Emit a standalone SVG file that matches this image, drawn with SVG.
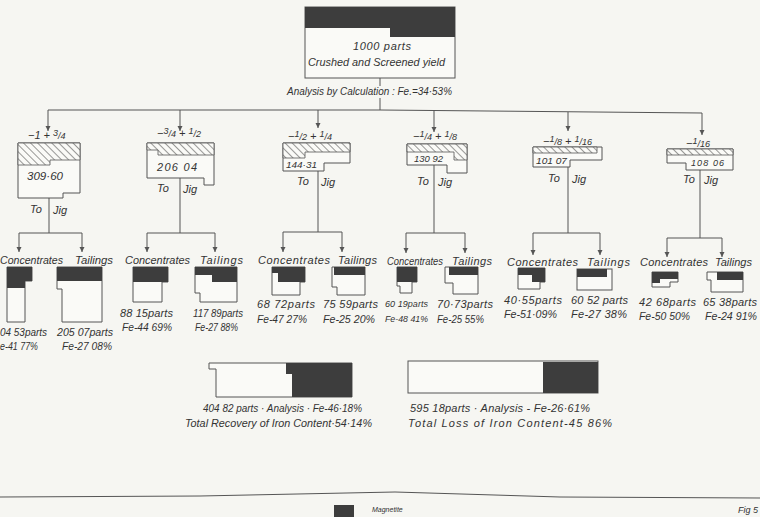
<svg xmlns="http://www.w3.org/2000/svg" width="760" height="517" viewBox="0 0 760 517">
<defs>
<style>
.t{font-family:"Liberation Sans",Arial,sans-serif;font-style:italic;font-size:11px;fill:#333}
.s{font-size:9px}
.xs{font-size:7px}
.ln{stroke:#555;stroke-width:1;fill:none}
.ar{stroke:#555;stroke-width:1;fill:none;marker-end:url(#ah)}
.box{fill:#fafaf7;stroke:#555;stroke-width:1}
.dk{fill:#3d3d3d}
.ht{fill:url(#hatch);stroke:#555;stroke-width:0.8}
</style>
<pattern id="hatch" width="5" height="5" patternUnits="userSpaceOnUse" patternTransform="rotate(-45)">
<rect width="5" height="5" fill="#fafaf7"/>
<line x1="0" y1="0" x2="0" y2="5" stroke="#555" stroke-width="1.2"/>
</pattern>
<marker id="ah" markerUnits="userSpaceOnUse" markerWidth="6" markerHeight="6" refX="5" refY="2.5" orient="auto">
<path d="M0,0 L5,2.5 L0,5 z" fill="#555"/>
</marker>
</defs>
<rect width="760" height="517" fill="#f6f6f2"/>

<g id="connectors">
<path class="ln" d="M380,78 V86 M380,98 V110"/>
<path class="ln" d="M48,110 L380,110 L702,113"/>
<path class="ar" d="M48,110 V131"/>
<path class="ar" d="M180,110 V131"/>
<path class="ar" d="M318,110 V128"/>
<path class="ar" d="M434,111 V132"/>
<path class="ar" d="M568,112 V131"/>
<path class="ar" d="M702,113 V135"/>
<path class="ln" d="M49,198 V233 M19,233 H82"/>
<path class="ar" d="M19,233 V252"/><path class="ar" d="M82,233 V252"/>
<path class="ln" d="M180,178 V233 M147,233 H215"/>
<path class="ar" d="M147,233 V252"/><path class="ar" d="M215,233 V252"/>
<path class="ln" d="M318,171 V232 M283,232 H342"/>
<path class="ar" d="M283,232 V252"/><path class="ar" d="M342,232 V252"/>
<path class="ln" d="M434,165 V233 M406,233 H465"/>
<path class="ar" d="M406,233 V253"/><path class="ar" d="M465,233 V253"/>
<path class="ln" d="M568,167 V233 M533,233 H600"/>
<path class="ar" d="M533,233 V255"/><path class="ar" d="M600,233 V255"/>
<path class="ln" d="M700,170 V238 M667,238 H722"/>
<path class="ar" d="M667,238 V257"/><path class="ar" d="M722,238 V257"/>
</g>

<g id="feed">
<rect class="box" x="305" y="7" width="150" height="71"/>
<path class="dk" d="M305,7 H455 V37 H390 V28 H305 Z"/>
<text class="t" x="353" y="50" textLength="58" lengthAdjust="spacing">1000 parts</text>
<text class="t" x="308" y="66" textLength="137" lengthAdjust="spacingAndGlyphs">Crushed and Screened yield</text>
<text class="t" x="287" y="95" textLength="165" lengthAdjust="spacingAndGlyphs">Analysis by Calculation : Fe.=34·53%</text>
</g>

<g id="size1">
<path class="box" d="M18,143 H80 V193 H63 V198 H18 Z"/>
<path class="ht" d="M18,143 H80 V160 H50 V165 H18 Z"/>
<text class="t" x="28" y="139">−1 + <tspan class="s" dy="-3">3</tspan><tspan class="s" dy="3">/4</tspan></text>
<text class="t" x="27" y="180" textLength="36" lengthAdjust="spacingAndGlyphs">309·60</text>
<text class="t" x="30" y="213">To</text><text class="t" x="53" y="214">Jig</text>
</g>
<g id="size2">
<path class="box" d="M147,143 H214 V185 H204 V178 H147 Z"/>
<path class="ht" d="M147,143 H214 V155 H158 V150 H147 Z"/>
<text class="t" x="157" y="137">−<tspan class="s" dy="-3">3</tspan><tspan class="s" dy="3">/4</tspan> + <tspan class="s" dy="-3">1</tspan><tspan class="s" dy="3">/2</tspan></text>
<text class="t" x="157" y="171" textLength="40" lengthAdjust="spacing">206 04</text>
<text class="t" x="157" y="192">To</text><text class="t" x="183" y="193">Jig</text>
</g>
<g id="size3">
<path class="box" d="M283,143 H350 V163 H324 V171 H283 Z"/>
<path class="ht" d="M283,143 H350 V152 H305 V158 H283 Z"/>
<text class="t" x="288" y="140">−<tspan class="s" dy="-3">1</tspan><tspan class="s" dy="3">/2</tspan> + <tspan class="s" dy="-3">1</tspan><tspan class="s" dy="3">/4</tspan></text>
<text class="t s" x="286" y="168" textLength="31" lengthAdjust="spacingAndGlyphs">144·31</text>
<text class="t" x="297" y="185">To</text><text class="t" x="321" y="186">Jig</text>
</g>
<g id="size4">
<path class="box" d="M407,144 H467 V173 H447 V165 H407 Z"/>
<path class="ht" d="M407,144 H467 V160 H454 V152 H407 Z"/>
<text class="t" x="413" y="140">−<tspan class="s" dy="-3">1</tspan><tspan class="s" dy="3">/4</tspan> + <tspan class="s" dy="-3">1</tspan><tspan class="s" dy="3">/8</tspan></text>
<text class="t s" x="414" y="162" textLength="29" lengthAdjust="spacingAndGlyphs">130 92</text>
<text class="t" x="417" y="185">To</text><text class="t" x="438" y="186">Jig</text>
</g>
<g id="size5">
<path class="box" d="M533,147 H602 V160 H570 V167 H533 Z"/>
<path class="ht" d="M533,147 H597 V153 H533 Z"/>
<text class="t" x="543" y="145">−<tspan class="s" dy="-3">1</tspan><tspan class="s" dy="3">/8</tspan> + <tspan class="s" dy="-3">1</tspan><tspan class="s" dy="3">/16</tspan></text>
<text class="t s" x="536" y="164" textLength="31" lengthAdjust="spacingAndGlyphs">101 07</text>
<text class="t" x="548" y="182">To</text><text class="t" x="572" y="183">Jig</text>
</g>
<g id="size6">
<path class="box" d="M667,149 H733 V170 H686 V163 H667 Z"/>
<path class="ht" d="M667,149 H733 V155 H667 Z"/>
<text class="t" x="686" y="147">−<tspan class="s" dy="-3">1</tspan><tspan class="s" dy="3">/16</tspan></text>
<text class="t s" x="691" y="166" textLength="33" lengthAdjust="spacing">108 06</text>
<text class="t" x="683" y="183">To</text><text class="t" x="704" y="184">Jig</text>
</g>

<g id="conc1">
<text class="t" x="0" y="264" textLength="63" lengthAdjust="spacingAndGlyphs">Concentrates</text>
<path class="box" d="M7,267 H32 V281 H25 V322 H7 Z"/>
<path class="dk" d="M7,267 H32 V281 H25 V288 H7 Z"/>
<text class="t" x="0" y="336" textLength="47" lengthAdjust="spacingAndGlyphs">04 53parts</text>
<text class="t" x="0" y="350" textLength="38" lengthAdjust="spacingAndGlyphs">e-41 77%</text>
</g>
<g id="tail1">
<text class="t" x="75" y="264" textLength="38" lengthAdjust="spacingAndGlyphs">Tailings</text>
<path class="box" d="M57,267 H102 V322 H62 V289 H57 Z"/>
<rect class="dk" x="57" y="267" width="45" height="14"/>
<text class="t" x="57" y="336" textLength="56" lengthAdjust="spacingAndGlyphs">205 07parts</text>
<text class="t" x="62" y="350" textLength="50" lengthAdjust="spacingAndGlyphs">Fe-27 08%</text>
</g>
<g id="conc2">
<text class="t" x="125" y="264" textLength="65" lengthAdjust="spacingAndGlyphs">Concentrates</text>
<path class="box" d="M133,267 H168 V282 H162 V302 H133 Z"/>
<rect class="dk" x="133" y="267" width="35" height="15"/>
<text class="t" x="120" y="317" textLength="53" lengthAdjust="spacing">88 15parts</text>
<text class="t" x="122" y="331" textLength="50" lengthAdjust="spacingAndGlyphs">Fe-44 69%</text>
</g>
<g id="tail2">
<text class="t" x="200" y="264" textLength="43" lengthAdjust="spacing">Tailings</text>
<path class="box" d="M195,267 H237 V302 H200 V293 H195 Z"/>
<path class="dk" d="M195,267 H237 V282 H212 V275 H195 Z"/>
<text class="t" x="193" y="317" textLength="50" lengthAdjust="spacingAndGlyphs">117 89parts</text>
<text class="t" x="195" y="331" textLength="43" lengthAdjust="spacingAndGlyphs">Fe-27 88%</text>
</g>
<g id="conc3">
<text class="t" x="258" y="264" textLength="72" lengthAdjust="spacing">Concentrates</text>
<path class="box" d="M272,267 H305 V282 H300 V295 H272 Z"/>
<path class="dk" d="M272,267 H305 V282 H278 V273 H272 Z"/>
<text class="t" x="257" y="308" textLength="58" lengthAdjust="spacing">68 72parts</text>
<text class="t" x="257" y="323" textLength="50" lengthAdjust="spacingAndGlyphs">Fe-47 27%</text>
</g>
<g id="tail3">
<text class="t" x="338" y="264" textLength="39" lengthAdjust="spacing">Tailings</text>
<path class="box" d="M332,267 H365 V295 H337 V287 H332 Z"/>
<rect class="dk" x="334" y="267" width="31" height="8"/>
<text class="t" x="323" y="308" textLength="55" lengthAdjust="spacing">75 59parts</text>
<text class="t" x="323" y="323" textLength="52" lengthAdjust="spacingAndGlyphs">Fe-25 20%</text>
</g>
<g id="conc4">
<text class="t" x="387" y="265" textLength="56" lengthAdjust="spacingAndGlyphs">Concentrates</text>
<path class="box" d="M397,267 H417 V282 H412 V293 H400 V286 H397 Z"/>
<rect class="dk" x="397" y="267" width="20" height="15"/>
<text class="t s" x="385" y="307" textLength="43" lengthAdjust="spacing">60 19parts</text>
<text class="t s" x="385" y="322" textLength="43" lengthAdjust="spacingAndGlyphs">Fe-48 41%</text>
</g>
<g id="tail4">
<text class="t" x="452" y="265" textLength="40" lengthAdjust="spacing">Tailings</text>
<path class="box" d="M445,267 H478 V294 H453 V283 H445 Z"/>
<rect class="dk" x="449" y="267" width="29" height="8"/>
<text class="t" x="437" y="308" textLength="56" lengthAdjust="spacing">70·73parts</text>
<text class="t" x="437" y="323" textLength="47" lengthAdjust="spacingAndGlyphs">Fe-25 55%</text>
</g>
<g id="conc5">
<text class="t" x="507" y="266" textLength="71" lengthAdjust="spacing">Concentrates</text>
<path class="box" d="M518,268 H545 V282 H540 V289 H518 Z"/>
<path class="dk" d="M518,268 H545 V282 H532 V275 H518 Z"/>
<text class="t" x="504" y="304" textLength="58" lengthAdjust="spacing">40·55parts</text>
<text class="t" x="504" y="318" textLength="53" lengthAdjust="spacingAndGlyphs">Fe-51·09%</text>
</g>
<g id="tail5">
<text class="t" x="587" y="266" textLength="43" lengthAdjust="spacing">Tailings</text>
<rect class="box" x="577" y="269" width="35" height="21"/>
<rect class="dk" x="577" y="269" width="30" height="8"/>
<text class="t" x="571" y="304" textLength="57" lengthAdjust="spacing">60 52 parts</text>
<text class="t" x="571" y="318" textLength="56" lengthAdjust="spacing">Fe-27 38%</text>
</g>
<g id="conc6">
<text class="t" x="640" y="266" textLength="68" lengthAdjust="spacing">Concentrates</text>
<path class="box" d="M652,272 H678 V282 H670 V287 H652 Z"/>
<path class="dk" d="M652,272 H678 V279 H660 V283 H652 Z"/>
<text class="t" x="639" y="306" textLength="57" lengthAdjust="spacing">42 68parts</text>
<text class="t" x="639" y="320" textLength="51" lengthAdjust="spacingAndGlyphs">Fe-50 50%</text>
</g>
<g id="tail6">
<text class="t" x="715" y="266" textLength="37" lengthAdjust="spacingAndGlyphs">Tailings</text>
<path class="box" d="M707,272 H743 V292 H711 V280 H707 Z"/>
<rect class="dk" x="717" y="272" width="26" height="8"/>
<text class="t" x="703" y="306" textLength="54" lengthAdjust="spacing">65 38parts</text>
<text class="t" x="705" y="320" textLength="52" lengthAdjust="spacingAndGlyphs">Fe-24 91%</text>
</g>

<g id="recovery">
<path class="box" d="M209,363 H352 V397 H216 V369 H209 Z"/>
<path class="dk" d="M286,363 H352 V397 H292 V374 H286 Z"/>
<text class="t" x="203" y="412" textLength="159" lengthAdjust="spacingAndGlyphs">404 82 parts · Analysis · Fe-46·18%</text>
<text class="t" x="185" y="427" textLength="187" lengthAdjust="spacingAndGlyphs">Total Recovery of Iron Content·54·14%</text>
</g>
<g id="loss">
<rect class="box" x="408" y="361" width="190" height="32"/>
<rect class="dk" x="543" y="362" width="55" height="31"/>
<text class="t" x="410" y="412" textLength="180" lengthAdjust="spacing">595 18parts · Analysis - Fe-26·61%</text>
<text class="t" x="408" y="427" textLength="204" lengthAdjust="spacing">Total Loss of Iron Content-45 86%</text>
</g>

<g id="footer">
<path class="ln" d="M0,497 L200,496 L395,492 L560,497 L760,498"/>
<rect class="dk" x="334" y="505" width="20" height="12"/>
<text class="t xs" x="372" y="512">Magnetite</text>
<text class="t s" x="738" y="513">Fig 5</text>
</g>
</svg>
